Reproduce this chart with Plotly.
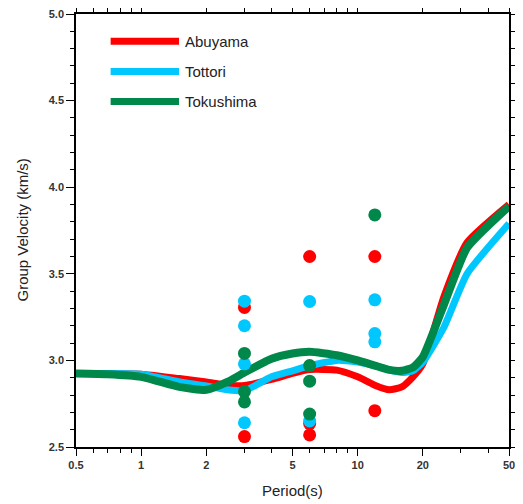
import plotly.graph_objects as go

# ---- data ----
periods = [0.5, 0.7, 1, 1.5, 2, 2.5, 3, 4, 5, 6, 8, 10, 12, 14, 16, 18, 20, 25, 32, 50]
abuyama_curve = [2.924, 2.924, 2.92, 2.895, 2.876, 2.857, 2.855, 2.89, 2.925, 2.947, 2.944,
                 2.905, 2.857, 2.83, 2.847, 2.905, 2.98, 3.367, 3.68, 3.90]
tottori_curve = [2.924, 2.924, 2.92, 2.876, 2.853, 2.83, 2.825, 2.905, 2.94, 2.97, 3.00,
                 2.99, 2.97, 2.945, 2.93, 2.94, 2.99, 3.19, 3.50, 3.79]
tokushima_curve = [2.924, 2.92, 2.905, 2.847, 2.83, 2.876, 2.93, 3.01, 3.04, 3.05, 3.03,
                   3.00, 2.97, 2.945, 2.94, 2.96, 3.02, 3.32, 3.65, 3.89]

abuyama_dot_periods = [3, 3, 6, 6, 6, 12, 12]
abuyama_dot_values = [3.306, 2.56, 3.60, 2.635, 2.57, 3.60, 2.71]
tottori_dot_periods = [3, 3, 3, 3, 6, 6, 12, 12, 12]
tottori_dot_values = [3.342, 3.20, 2.98, 2.64, 3.34, 2.65, 3.35, 3.155, 3.107]
tokushima_dot_periods = [3, 3, 3, 6, 6, 6, 12]
tokushima_dot_values = [3.04, 2.82, 2.76, 2.97, 2.88, 2.69, 3.84]

series_names = ["Abuyama", "Tottori", "Tokushima"]
x_tickvals = [0.5, 1, 2, 5, 10, 20, 50]
x_ticktext = ["0.5", "1", "2", "5", "10", "20", "50"]
x_minor = [0.6, 0.7, 0.8, 0.9, 3, 4, 6, 7, 8, 9, 30, 40]
y_tickvals = [2.5, 3.0, 3.5, 4.0, 4.5, 5.0]
y_ticktext = ["2.5", "3.0", "3.5", "4.0", "4.5", "5.0"]

colors = ["#ff0000", "#00c8ff", "#00874a"]
widths = [7, 7, 8]

fig = go.Figure()
curves = [abuyama_curve, tottori_curve, tokushima_curve]
for name, c, col, w in zip(series_names, curves, colors, widths):
    fig.add_trace(go.Scatter(x=periods, y=c, mode="lines", name=name,
                             line=dict(color=col, width=w, shape="spline", smoothing=0.5),
                             showlegend=False))
dots = [(abuyama_dot_periods, abuyama_dot_values),
        (tottori_dot_periods, tottori_dot_values),
        (tokushima_dot_periods, tokushima_dot_values)]
for name, (dx, dy), col in zip(series_names, dots, colors):
    fig.add_trace(go.Scatter(x=dx, y=dy, mode="markers", name=name,
                             marker=dict(color=col, size=13), showlegend=False))

# legend drawn manually
leg_y = [0.937, 0.867, 0.798]
for name, col, yy in zip(series_names, colors, leg_y):
    fig.add_shape(type="line", xref="paper", yref="paper", x0=0.08, x1=0.238, y0=yy, y1=yy,
                  line=dict(color=col, width=7))
    fig.add_annotation(xref="paper", yref="paper", x=0.247, y=yy, text=name, showarrow=False,
                       xanchor="left", yanchor="middle",
                       font=dict(family="Liberation Sans, Arial", size=15, color="#222"))

titlefont = dict(family="Liberation Sans, Arial", size=15, color="#222")
fig.add_annotation(xref="paper", yref="paper", x=-0.1247, y=0.5, text="Group Velocity (km/s)",
                   textangle=-90, showarrow=False, xanchor="center", yanchor="middle", font=titlefont)
fig.add_annotation(xref="paper", yref="paper", x=0.5, y=-0.100, text="Period(s)",
                   showarrow=False, xanchor="center", yanchor="middle", font=titlefont)

tickfont = dict(family="Liberation Sans, Arial", size=11, color="#333", weight="bold")
fig.update_layout(
    width=515, height=496,
    margin=dict(l=68, r=14, t=6, b=57),
    plot_bgcolor="white", paper_bgcolor="white",
    xaxis=dict(type="log", range=[-0.30103, 1.69897], tickvals=x_tickvals, ticktext=x_ticktext,
               ticks="outside", ticklen=7, tickwidth=1, tickcolor="black", automargin=False,
               ticklabeloverflow="allow",
               showline=True, linecolor="black", linewidth=1.5, mirror="ticks",
               showgrid=False, zeroline=False, tickfont=tickfont,
               minor=dict(tickvals=x_minor, ticks="outside", ticklen=4, tickwidth=1, tickcolor="black")),
    yaxis=dict(range=[2.5, 5.0], tickvals=y_tickvals, ticktext=y_ticktext,
               ticks="outside", ticklen=8, tickwidth=1, tickcolor="black", automargin=False,
               ticklabeloverflow="allow",
               showline=True, linecolor="black", linewidth=1.5, mirror="ticks",
               showgrid=False, zeroline=False, tickfont=tickfont,
               minor=dict(dtick=0.1, ticks="outside", ticklen=4, tickwidth=1, tickcolor="black")),
)
fig.write_html("out.html")
